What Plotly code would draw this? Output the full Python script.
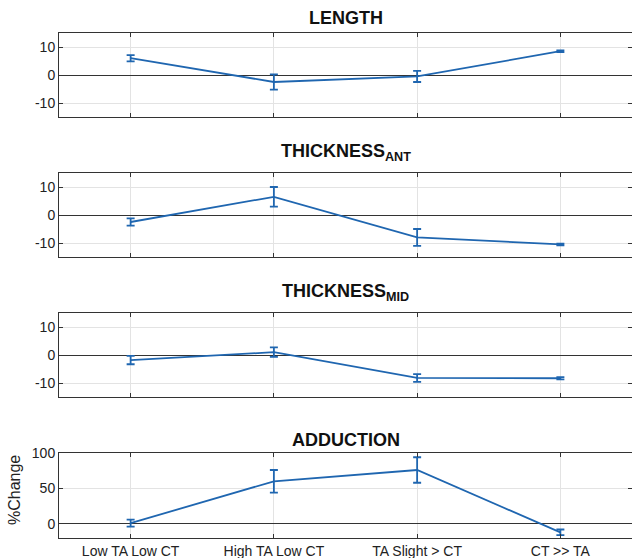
import plotly.graph_objects as go

categories = ["Low TA Low CT", "High TA Low CT", "TA Slight > CT", "CT >> TA"]
cat_pos = [1, 2, 3, 4]

length_vals = [6.0, -2.5, -0.5, 8.5]
length_err = [1.1, 2.7, 2.0, 0.3]

thick_ant_vals = [-2.5, 6.5, -8.0, -10.5]
thick_ant_err = [1.3, 3.5, 3.0, 0.3]

thick_mid_vals = [-1.8, 1.0, -8.2, -8.3]
thick_mid_err = [1.5, 1.7, 1.4, 0.4]

adduction_vals = [1.0, 60.0, 76.0, -12.0]
adduction_err = [5.0, 16.0, 18.0, 4.0]

titles = ["<b>LENGTH</b>", "<b>THICKNESS<sub>ANT</sub></b>",
          "<b>THICKNESS<sub>MID</sub></b>", "<b>ADDUCTION</b>"]
series = [(length_vals, length_err), (thick_ant_vals, thick_ant_err),
          (thick_mid_vals, thick_mid_err), (adduction_vals, adduction_err)]
yranges = [[-15, 15], [-15, 15], [-15, 15], [-20, 100]]
ytickvals = [[-10, 0, 10], [-10, 0, 10], [-10, 0, 10], [0, 50, 100]]
yticktext = [["-10", "0", "10"], ["-10", "0", "10"], ["-10", "0", "10"],
             ["0", "50", "100"]]
ylabel = "%Change"

BLUE = "#1f66b0"
H_PLOT = 538  # plot-area height in px (558 - bottom margin)
W_PLOT = 573
boxes = [(33, 117), (173, 257), (313, 397), (453, 538)]
title_y = [18, 152, 292, 440]

fig = go.Figure()
for i, ((vals, err), (top, bot)) in enumerate(zip(series, boxes)):
    n = i + 1
    xa = "x" if n == 1 else f"x{n}"
    ya = "y" if n == 1 else f"y{n}"
    fig.add_trace(go.Scatter(
        x=cat_pos, y=vals, xaxis=xa, yaxis=ya, mode="lines",
        line=dict(color=BLUE, width=1.8),
        error_y=dict(type="data", array=err, visible=True, color=BLUE,
                     thickness=1.8, width=4),
        showlegend=False, hoverinfo="skip"))
    dom = [(H_PLOT - bot) / H_PLOT, (H_PLOT - top) / H_PLOT]
    axis_common = dict(showline=True, linecolor="#333333", linewidth=1,
                       mirror="ticks", ticks="inside", ticklen=4,
                       tickcolor="#333333", gridcolor="#e3e3e3", gridwidth=1,
                       automargin=False)
    fig.layout[f"xaxis{'' if n == 1 else n}"] = dict(
        domain=[0, 1], anchor=ya, range=[0.5, 4.5], tickvals=cat_pos,
        ticktext=categories, showticklabels=(n == 4), zeroline=False,
        tickfont=dict(size=14, color="#222222"), **axis_common)
    fig.layout[f"yaxis{'' if n == 1 else n}"] = dict(
        domain=dom, anchor=xa, range=yranges[i], tickvals=ytickvals[i],
        ticktext=yticktext[i],
        zeroline=True, zerolinecolor="#333333", zerolinewidth=1.2,
        tickfont=dict(size=14, color="#222222"), **axis_common)
    fig.add_annotation(text=titles[i], xref="paper", yref="paper",
                       x=0.5, y=(H_PLOT - title_y[i]) / H_PLOT,
                       showarrow=False, yanchor="middle",
                       font=dict(size=18, color="#111111"))

fig.add_annotation(text=ylabel, xref="paper", yref="paper",
                   x=-45 / W_PLOT, y=(H_PLOT - 490) / H_PLOT,
                   textangle=-90, showarrow=False,
                   xanchor="center", yanchor="middle",
                   font=dict(size=16, color="#222222"))

fig.update_layout(width=632, height=558,
                  margin=dict(l=59, r=0, t=0, b=20, autoexpand=False),
                  paper_bgcolor="white", plot_bgcolor="white",
                  font=dict(family="Liberation Sans, Arial, sans-serif"))
fig.write_html("out.html", config={"displayModeBar": False},
               post_script="document.body.style.margin='0';"
                           "document.body.style.overflow='hidden';")
